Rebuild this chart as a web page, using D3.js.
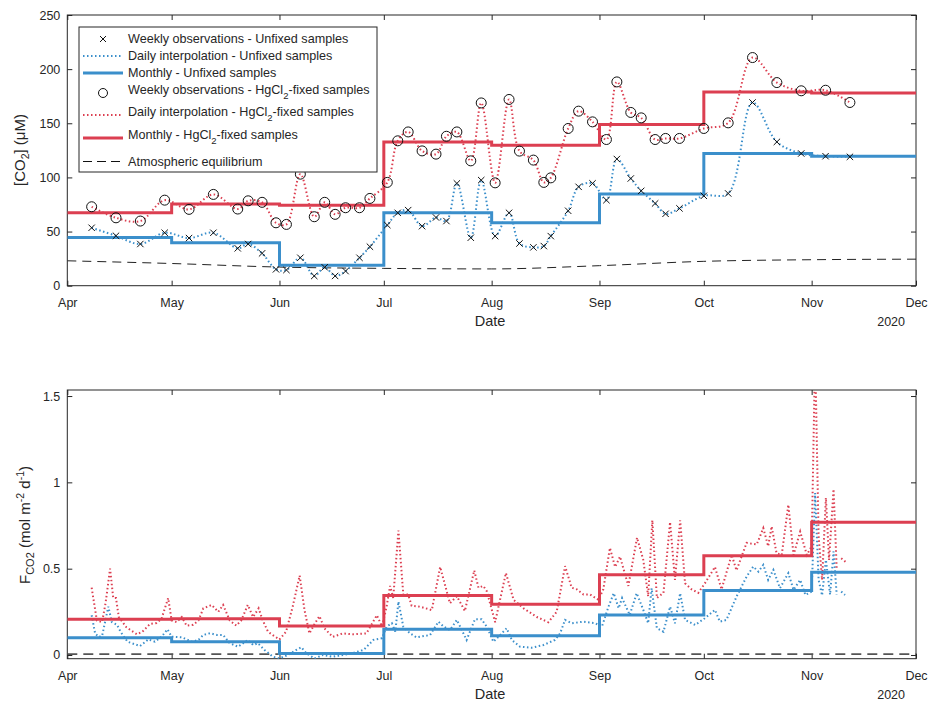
<!DOCTYPE html>
<html>
<head>
<meta charset="utf-8">
<script src="https://cdn.jsdelivr.net/npm/d3@7"></script>
<style>
  body { margin: 0; background: #fff; }
  svg { font-family: "Liberation Sans", Arial, sans-serif; }
  .tick text { fill: #262626; font-size: 12.5px; }
  .tick line { stroke: #262626; }
</style>
</head>
<body>
<svg id="chart" width="931" height="704"></svg>
<script>
// sampling days, offset from 1 Apr 2020
var obsDays = [7,14,21,28,35,42,49,52,56,60,63,67,71,74,77,80,84,87,92,95,98,102,106,109,112,116,119,123,127,130,
  134,137,139,144,147,151,155,158,162,165,169,172,176,183,190,197,204,211,218,225];
var co2Unfixed = [53.5,46.1,38.5,48.9,44,48.9,34.5,38.5,29.9,15.1,14.5,25.8,9,17,9,13.5,25.8,36,56,67.3,69.8,55,63,59.7,94.5,
  44.3,97.5,45.8,67.3,39,35.4,36.6,45.8,69.2,91.3,94.5,79,117,99,87.6,76,66.4,71.4,83,85.2,169.2,132.8,122.1,119.6,119];
var co2Fixed = [72.9,62.7,59.7,79,70.5,84.3,70.8,78.4,77,58.1,56.6,103,63.7,77,65.9,72,72,80.6,95.4,133.8,142,124.5,121.5,138,142,
  115.3,168.8,95,172,124.3,116,95.4,99.6,145.2,161.2,151.3,135,188.2,160,155,135,136,136,145.2,150.4,210.7,187.6,180,180.5,169.2];

var months = ["2020-04-01","2020-05-01","2020-06-01","2020-07-01","2020-08-01","2020-09-01","2020-10-01","2020-11-01","2020-12-01"];
var co2MonthlyUnfixed = [44.6,39.7,18.8,67.3,58.1,84.6,122.1,119.6,119.6];
var co2MonthlyFixed = [67.3,75.4,74.4,132.8,129.8,148.9,179,178,178];
var co2Atm = [23,20.5,17.2,16,15.5,18.5,22.5,24,24.5];

var fluxMonthlyUnfixed = [0.1,0.077,0.008,0.149,0.112,0.232,0.373,0.479,0.479];
var fluxMonthlyFixed = [0.207,0.21,0.168,0.344,0.294,0.465,0.575,0.769,0.769];
var fluxAtm = [0.005,0.005,0.005,0.005,0.005,0.005,0.005,0.005,0.005];

var fluxDaysFixed = [7,8.5,10,11,12.3,13.2,14,14.8,17,20,21.6,23.8,25.7,27.1,29,30,31.4,32.9,34.3,36.2,37.7,39.1,41.5,43.4,44.8,
  46.7,48.6,50,51.9,53.4,55,56.2,57.7,59.1,61,62.9,64.8,66.8,68.2,69.6,71.1,72.5,73.9,76.3,79.2,82,86,89,90.5,91.8,92.8,93.7,
  95.2,96.6,98,99,101.4,104.8,107.2,110,112,114.3,117,118.2,119.6,120.6,123,126.1,128.3,131.2,135,138.3,140.7,143.1,145,146.5,
  148.4,150.3,152.7,154.1,156,157.5,158.9,161.3,163.8,165.6,167,168.2,169.5,171.4,173.3,174.7,176.2,177.6,179.5,181.4,183.3,
  186.2,188.1,191,192.4,195.3,198.2,200.1,201.5,202.5,203.9,205.4,207.3,208.8,210.7,212.6,214,215,216,217,218.1,219,220.3,
  221.2,221.8,222.5,224];
var fluxFixed = [0.39,0.2,0.19,0.3,0.5,0.33,0.33,0.22,0.16,0.12,0.135,0.18,0.185,0.21,0.33,0.2,0.19,0.22,0.17,0.175,0.2,0.27,
  0.29,0.25,0.29,0.2,0.17,0.2,0.29,0.22,0.27,0.2,0.135,0.115,0.09,0.135,0.28,0.46,0.26,0.125,0.18,0.225,0.155,0.105,0.125,0.12,
  0.125,0.23,0.165,0.28,0.4,0.33,0.72,0.35,0.35,0.285,0.28,0.26,0.51,0.3,0.34,0.255,0.49,0.39,0.4,0.37,0.19,0.475,0.32,0.27,
  0.22,0.19,0.25,0.515,0.39,0.38,0.35,0.35,0.32,0.38,0.62,0.51,0.57,0.4,0.68,0.55,0.34,0.78,0.33,0.36,0.77,0.435,0.78,0.415,
  0.38,0.36,0.415,0.51,0.38,0.58,0.49,0.65,0.64,0.735,0.63,0.745,0.59,0.58,0.87,0.58,0.715,0.58,0.63,1.75,0.69,0.435,0.91,
  0.55,0.96,0.5,null,0.56,0.535];

var fluxDaysUnfixed = [7,8,9,10,11.8,12.8,14.3,15.3,17.3,20.9,23.3,25.2,27.1,28.8,30,33,35.8,37.7,39.1,41,43,44.8,46.7,49.1,
  51.9,53.4,54.8,56.7,59.1,61,63.4,65.8,67.3,68.7,71.1,73.5,76.4,79.2,82,85.2,88,90.5,91.8,93.3,94.3,95.2,96.6,98.5,100.4,
  104.3,106.7,108.2,110,112,114.8,117.2,119.1,120.6,122.5,124,126.3,127.8,130.2,133.5,136.9,140.2,141.7,143.1,145,148.4,
  151.8,153.7,155.6,157.1,158.5,159.5,161.7,163.7,165.6,167,168,169.5,171.4,173.3,174.7,176.2,177.6,180.5,183.3,186.2,
  187.6,189.5,192.4,195.3,197.2,198.7,200.1,201.5,203,204.9,207.3,208.8,210.7,212.2,214,215,216,217,218.1,219.3,220.3,
  221.2,221.8,222.5,223.6];
var fluxUnfixed = [0.23,0.125,0.105,0.11,0.28,0.19,0.175,0.135,0.077,0.052,0.09,0.077,0.106,0.149,0.106,0.102,0.077,0.087,
  0.116,0.126,0.116,0.116,0.068,0.048,0.087,0.058,0.068,0.029,-0.01,-0.02,0,0.029,0.045,0.01,-0.02,0,-0.01,0,0.01,0.03,
  0.087,0.097,0.164,0.184,0.135,0.309,0.164,0.126,0.102,0.116,0.193,0.164,0.145,0.203,0.087,0.207,0.207,0.164,0.077,0.106,
  0.155,0.087,0.048,0.042,0.058,0.087,0.126,0.203,0.184,0.193,0.184,0.164,0.28,0.358,0.271,0.33,0.232,0.358,0.261,0.184,
  0.387,0.155,0.135,0.28,0.184,0.358,0.203,0.174,0.213,0.261,0.193,0.203,0.338,0.454,0.512,0.483,0.522,0.435,0.493,0.387,
  0.474,0.377,0.435,0.348,0.367,0.938,0.435,0.345,0.551,0.35,0.6,0.35,null,0.367,0.348];

var co2Ticks = [0,50,100,150,200,250];
var fluxTicks = [0,0.5,1,1.5];

var blue = "#3b8fcb", red = "#dc3f51", ink = "#262626";
var width = 931, height = 704;
var start = Date.UTC(2020, 3, 1);
function dayDate(d) { return new Date(start + d * 864e5); }
var parse = d3.utcParse("%Y-%m-%d");
var monthDates = months.map(parse);

var svg = d3.select("#chart");
svg.append("rect").attr("width", width).attr("height", height).attr("fill", "#fff");

var x = d3.scaleUtc()
    .domain([parse("2020-04-01"), parse("2020-12-01")])
    .range([67.3, 916]);

function drawFrame(y, top, bottom, ticks, fmt, clipId) {
  var left = x.range()[0], right = x.range()[1];
  svg.append("clipPath").attr("id", clipId)
    .append("rect").attr("x", left).attr("y", top).attr("width", right - left).attr("height", bottom - top);

  var gx = svg.append("g").attr("transform", "translate(0," + bottom + ")")
    .call(d3.axisBottom(x).ticks(d3.utcMonth.every(1)).tickFormat(d3.utcFormat("%b")).tickSize(-5).tickPadding(12));
  gx.select(".domain").remove();
  var gxt = svg.append("g").attr("transform", "translate(0," + top + ")")
    .call(d3.axisTop(x).ticks(d3.utcMonth.every(1)).tickFormat("").tickSize(-5));
  gxt.select(".domain").remove();

  var gy = svg.append("g").attr("transform", "translate(" + left + ",0)")
    .call(d3.axisLeft(y).tickValues(ticks).tickFormat(fmt).tickSize(-5).tickPadding(7));
  gy.select(".domain").remove();
  var gyr = svg.append("g").attr("transform", "translate(" + right + ",0)")
    .call(d3.axisRight(y).tickValues(ticks).tickFormat("").tickSize(-5));
  gyr.select(".domain").remove();

  svg.append("rect")
    .attr("x", left).attr("y", top).attr("width", right - left).attr("height", bottom - top)
    .attr("fill", "none").attr("stroke", ink).attr("stroke-width", 1);

  svg.append("text").attr("x", 490).attr("y", bottom + 40).attr("text-anchor", "middle")
    .attr("fill", ink).style("font-size", "14.5px").text("Date");
  svg.append("text").attr("x", 905).attr("y", bottom + 40).attr("text-anchor", "end")
    .attr("fill", ink).style("font-size", "12.5px").text("2020");
}

// ---------- top panel: CO2 concentration ----------
var yTop = d3.scaleLinear().domain([0, 250]).range([285.7, 15]);
drawFrame(yTop, 15, 285.7, co2Ticks, d3.format("d"), "clipTop");

var gTop = svg.append("g").attr("clip-path", "url(#clipTop)");

var monthly = d3.line().curve(d3.curveStepAfter)
    .x(function(d, i) { return x(monthDates[i]); })
    .y(function(d) { return yTop(d); });
var smooth = d3.line().curve(d3.curveCatmullRom.alpha(0.5))
    .x(function(d, i) { return x(dayDate(obsDays[i])); })
    .y(function(d) { return yTop(d); });

gTop.append("path").datum(co2Atm)
  .attr("d", d3.line().curve(d3.curveMonotoneX)
    .x(function(d, i) { return x(monthDates[i]); }).y(function(d) { return yTop(d); }))
  .attr("fill", "none").attr("stroke", "#222").attr("stroke-width", 1).attr("stroke-dasharray", "9,6");

gTop.append("path").datum(co2Unfixed).attr("d", smooth)
  .attr("fill", "none").attr("stroke", blue).attr("stroke-width", 2).attr("stroke-dasharray", "1.5,2.5");
gTop.append("path").datum(co2Fixed).attr("d", smooth)
  .attr("fill", "none").attr("stroke", red).attr("stroke-width", 2).attr("stroke-dasharray", "1.5,2.5");

gTop.append("path").datum(co2MonthlyUnfixed).attr("d", monthly)
  .attr("fill", "none").attr("stroke", blue).attr("stroke-width", 3);
gTop.append("path").datum(co2MonthlyFixed).attr("d", monthly)
  .attr("fill", "none").attr("stroke", red).attr("stroke-width", 3);

gTop.selectAll(".xmark").data(co2Unfixed).enter().append("path")
  .attr("class", "xmark")
  .attr("transform", function(d, i) { return "translate(" + x(dayDate(obsDays[i])) + "," + yTop(d) + ")"; })
  .attr("d", "M-3.2,-3.2L3.2,3.2M-3.2,3.2L3.2,-3.2")
  .attr("stroke", "#111").attr("stroke-width", 1);

gTop.selectAll(".omark").data(co2Fixed).enter().append("circle")
  .attr("class", "omark")
  .attr("cx", function(d, i) { return x(dayDate(obsDays[i])); })
  .attr("cy", function(d) { return yTop(d); })
  .attr("r", 5).attr("fill", "none").attr("stroke", "#111").attr("stroke-width", 1);

// y label top
var ylab1 = svg.append("text").attr("transform", "translate(25,150) rotate(-90)")
  .attr("text-anchor", "middle").attr("fill", ink).style("font-size", "15px");
ylab1.append("tspan").text("[CO");
ylab1.append("tspan").attr("dy", 4).style("font-size", "10.5px").text("2");
ylab1.append("tspan").attr("dy", -4).text("] (\u03bcM)");

// legend
var leg = svg.append("g");
leg.append("rect").attr("x", 79).attr("y", 27).attr("width", 298).attr("height", 145)
  .attr("fill", "#fff").attr("stroke", ink).attr("stroke-width", 1);
var legendRows = [
  {y: 39, kind: "x", label: ["Weekly observations - Unfixed samples"]},
  {y: 56, kind: "dot", color: blue, label: ["Daily interpolation - Unfixed samples"]},
  {y: 73, kind: "solid", color: blue, label: ["Monthly - Unfixed samples"]},
  {y: 93, kind: "o", label: ["Weekly observations - HgCl", "2", "-fixed samples"]},
  {y: 115, kind: "dot", color: red, label: ["Daily interpolation - HgCl", "2", "-fixed samples"]},
  {y: 138, kind: "solid", color: red, label: ["Monthly - HgCl", "2", "-fixed samples"]},
  {y: 161.5, kind: "dash", label: ["Atmospheric equilibrium"]}
];
legendRows.forEach(function(r) {
  if (r.kind === "x") {
    leg.append("path").attr("transform", "translate(103," + r.y + ")")
      .attr("d", "M-3,-3L3,3M-3,3L3,-3").attr("stroke", "#111").attr("stroke-width", 1);
  } else if (r.kind === "o") {
    leg.append("circle").attr("cx", 103).attr("cy", r.y).attr("r", 4.5)
      .attr("fill", "none").attr("stroke", "#111").attr("stroke-width", 1);
  } else {
    var ln = leg.append("line").attr("x1", 83).attr("x2", 123).attr("y1", r.y).attr("y2", r.y);
    if (r.kind === "dot") ln.attr("stroke", r.color).attr("stroke-width", 2).attr("stroke-dasharray", "1.5,2.5");
    if (r.kind === "solid") ln.attr("stroke", r.color).attr("stroke-width", 3);
    if (r.kind === "dash") ln.attr("stroke", "#111").attr("stroke-width", 1).attr("stroke-dasharray", "9,5");
  }
  var ty = r.label.length > 1 ? r.y - 3 : r.y;
  var t = leg.append("text").attr("x", 128).attr("y", ty).attr("dy", "0.35em")
    .attr("fill", ink).style("font-size", "12.6px");
  t.append("tspan").text(r.label[0]);
  if (r.label.length > 1) {
    t.append("tspan").attr("dy", 5).style("font-size", "9.5px").text(r.label[1]);
    t.append("tspan").attr("dy", -5).text(r.label[2]);
  }
});

// ---------- bottom panel: CO2 flux ----------
var yBot = d3.scaleLinear().domain([-0.0215, 1.535]).range([658.7, 390]);
drawFrame(yBot, 390, 658.7, fluxTicks, function(d) { return d === 0 ? "0" : String(d); }, "clipBot");

var gBot = svg.append("g").attr("clip-path", "url(#clipBot)");

var monthlyB = d3.line().curve(d3.curveStepAfter)
    .x(function(d, i) { return x(monthDates[i]); })
    .y(function(d) { return yBot(d); });

gBot.append("path").datum(fluxAtm)
  .attr("d", d3.line().x(function(d, i) { return x(monthDates[i]); }).y(function(d) { return yBot(d); }))
  .attr("fill", "none").attr("stroke", "#555").attr("stroke-width", 1.6).attr("stroke-dasharray", "10,6");

function dailyLine(days) {
  return d3.line()
    .defined(function(d) { return d !== null; })
    .x(function(d, i) { return x(dayDate(days[i])); })
    .y(function(d) { return yBot(d); });
}
gBot.append("path").datum(fluxUnfixed).attr("d", dailyLine(fluxDaysUnfixed))
  .attr("fill", "none").attr("stroke", blue).attr("stroke-width", 2).attr("stroke-dasharray", "1.5,2.5");
gBot.append("path").datum(fluxFixed).attr("d", dailyLine(fluxDaysFixed))
  .attr("fill", "none").attr("stroke", red).attr("stroke-width", 2).attr("stroke-dasharray", "1.5,2.5");

gBot.append("path").datum(fluxMonthlyUnfixed).attr("d", monthlyB)
  .attr("fill", "none").attr("stroke", blue).attr("stroke-width", 3);
gBot.append("path").datum(fluxMonthlyFixed).attr("d", monthlyB)
  .attr("fill", "none").attr("stroke", red).attr("stroke-width", 3);

var ylab2 = svg.append("text").attr("transform", "translate(30,525) rotate(-90)")
  .attr("text-anchor", "middle").attr("fill", ink).style("font-size", "15px");
ylab2.append("tspan").text("F");
ylab2.append("tspan").attr("dy", 4).style("font-size", "11px").text("CO2");
ylab2.append("tspan").attr("dy", -4).text(" (mol m");
ylab2.append("tspan").attr("dy", -6).style("font-size", "10.5px").text("-2");
ylab2.append("tspan").attr("dy", 6).text(" d");
ylab2.append("tspan").attr("dy", -6).style("font-size", "10.5px").text("-1");
ylab2.append("tspan").attr("dy", 6).text(")");
</script>
</body>
</html>
